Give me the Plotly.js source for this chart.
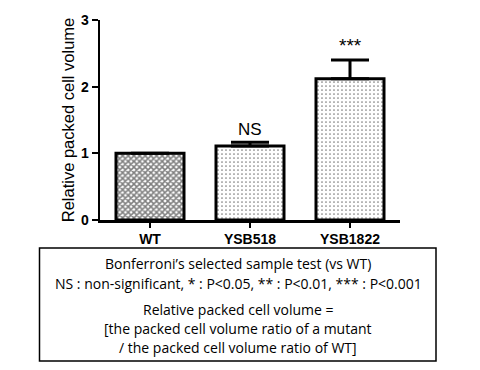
<!DOCTYPE html>
<html>
<head>
<meta charset="utf-8">
<script src="https://cdn.plot.ly/plotly-3.0.1.min.js"></script>
<style>html,body{margin:0;padding:0;background:#fff;}#chart{width:480px;height:370px;}</style>
</head>
<body>
<div id="chart"></div>
<script>
const categories = ["WT", "YSB518", "YSB1822"];
const values = [1.0, 1.11, 2.12];
const errorsUp = [0, 0.055, 0.28];
const sigLabels = ["", "NS", "***"];
const yTicks = [0, 1, 2, 3];
const noteLines = [
  "Bonferroni\u2019s selected sample test (vs WT)",
  "NS : non-significant, * : P<0.05, ** : P<0.01, *** : P<0.001",
  "Relative packed cell volume =",
  "[the packed cell volume ratio of a mutant",
  "/ the packed cell volume ratio of WT]"
];

const pw = 300, ph = 200; // plot area in px
function px2x(px){ return (px - 100) / pw; }
function px2y(py){ return (220 - py) / ph; }

const bars = {
  type: "bar",
  x: categories,
  y: values,
  width: 0.68,
  marker: {
    color: "#ffffff",
    line: {color: "#000000", width: 0},
    pattern: {
      shape: ["x", ".", "."],
      size: [4, 4, 4],
      solidity: [0.62, 0.15, 0.15],
      fgcolor: "#000000",
      bgcolor: "#ffffff",
      fillmode: "overlay"
    }
  },
  hoverinfo: "none"
};

const outlines = {
  type: "bar",
  x: categories,
  y: values,
  width: 0.68,
  marker: {color: "rgba(0,0,0,0)", line: {color: "#000000", width: 3}},
  error_y: {
    type: "data",
    symmetric: false,
    array: errorsUp,
    arrayminus: [0, 0, 0],
    color: "#000000",
    thickness: 3,
    width: 19
  },
  hoverinfo: "none"
};

const annotations = [];
categories.forEach((c, i) => {
  if (sigLabels[i]) {
    const ns = sigLabels[i] === "NS";
    annotations.push({
      x: c, y: values[i] + errorsUp[i], xref: "x", yref: "y",
      text: sigLabels[i], showarrow: false, yanchor: "bottom", yshift: ns ? 1 : 2,
      font: {family: "Liberation Sans, Arial", size: ns ? 17 : 19, color: "#000"}
    });
  }
});
const notePy = [263, 283, 309, 328, 347];
noteLines.forEach((t, i) => {
  annotations.push({
    x: px2x(238), y: px2y(notePy[i]), xref: "paper", yref: "paper",
    text: t, showarrow: false, xanchor: "center", yanchor: "middle",
    font: {family: "Open Sans, Liberation Sans, Arial", size: 14, color: "#000"}
  });
});

const layout = {
  width: 480, height: 370,
  margin: {l: 100, r: 80, t: 20, b: 150},
  paper_bgcolor: "#ffffff",
  plot_bgcolor: "#ffffff",
  showlegend: false,
  barmode: "overlay",
  xaxis: {
    type: "category",
    range: [-0.5, 2.5],
    showline: true, linecolor: "#000", linewidth: 2.5,
    ticks: "outside", ticklen: 5, tickwidth: 1.5, tickcolor: "#000",
    showgrid: false, zeroline: false,
    tickfont: {family: "Liberation Sans, Arial", size: 14, color: "#000", weight: "bold"},
    fixedrange: true
  },
  yaxis: {
    range: [0, 3],
    tickvals: yTicks,
    ticktext: yTicks.map(String),
    showline: true, linecolor: "#000", linewidth: 2.5,
    ticks: "outside", ticklen: 6, tickwidth: 2, tickcolor: "#000",
    showgrid: false, zeroline: false,
    tickfont: {family: "Liberation Sans, Arial", size: 14, color: "#000", weight: "bold"},
    title: {text: "Relative packed cell volume", standoff: 2,
            font: {family: "Liberation Sans, Arial", size: 16.5, color: "#000"}},
    fixedrange: true
  },
  shapes: [{
    type: "rect", xref: "paper", yref: "paper",
    x0: px2x(39.5), x1: px2x(436), y0: px2y(361), y1: px2y(248),
    line: {color: "#000", width: 1.5}, fillcolor: "rgba(0,0,0,0)"
  }],
  annotations: annotations
};

Plotly.newPlot("chart", [bars, outlines], layout, {displayModeBar: false, staticPlot: true});
</script>
</body>
</html>
